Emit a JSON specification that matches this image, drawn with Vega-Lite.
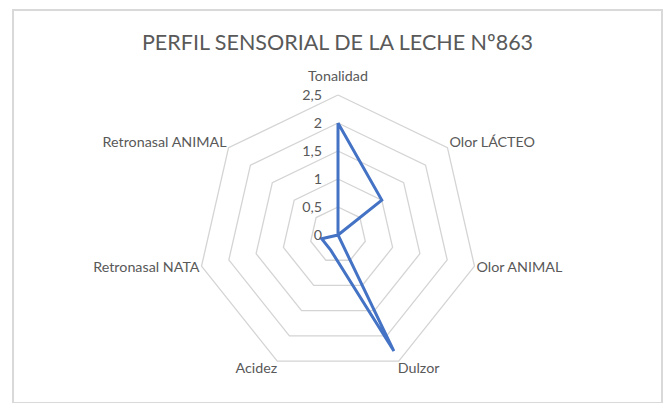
{
  "$schema": "https://vega.github.io/schema/vega-lite/v6.json",
  "width": 649,
  "height": 393,
  "padding": {"left": 13, "top": 10, "right": 2, "bottom": 0},
  "autosize": {"type": "none"},
  "background": "white",
  "config": {"view": {"stroke": "#d9d9d9", "strokeWidth": 2}, "font": "Lato"},
  "title": {"text": "PERFIL SENSORIAL DE LA LECHE Nº863", "font": "Lato", "fontSize": 21.5, "fontWeight": "normal", "color": "#595959", "offset": -44, "anchor": "middle"},
  "encoding": {
    "x": {"field": "x", "type": "quantitative", "scale": {"domain": [-5.804, 5.786], "nice": false, "zero": false}, "axis": null},
    "y": {"field": "y", "type": "quantitative", "scale": {"domain": [-3.0, 4.018], "nice": false, "zero": false}, "axis": null}
  },
  "layer": [
    {
      "data": {"values": [
        {"level": 0.5, "k": [0, 1, 2, 3, 4, 5, 6, 7]},
        {"level": 1.0, "k": [0, 1, 2, 3, 4, 5, 6, 7]},
        {"level": 1.5, "k": [0, 1, 2, 3, 4, 5, 6, 7]},
        {"level": 2.0, "k": [0, 1, 2, 3, 4, 5, 6, 7]},
        {"level": 2.5, "k": [0, 1, 2, 3, 4, 5, 6, 7]}
      ]},
      "transform": [
        {"flatten": ["k"]},
        {"calculate": "datum.level * sin(2 * PI * datum.k / 7)", "as": "x"},
        {"calculate": "datum.level * cos(2 * PI * datum.k / 7)", "as": "y"}
      ],
      "mark": {"type": "line", "color": "#d4d4d4", "strokeWidth": 1.3},
      "encoding": {"detail": {"field": "level"}, "order": {"field": "k", "type": "quantitative"}}
    },
    {
      "data": {"values": [
        {"categoria": "Tonalidad", "i": 0, "valor": 2.0},
        {"categoria": "Olor LÁCTEO", "i": 1, "valor": 1.0},
        {"categoria": "Olor ANIMAL", "i": 2, "valor": 0.0},
        {"categoria": "Dulzor", "i": 3, "valor": 2.3},
        {"categoria": "Acidez", "i": 4, "valor": 0.3},
        {"categoria": "Retronasal NATA", "i": 5, "valor": 0.3},
        {"categoria": "Retronasal ANIMAL", "i": 6, "valor": 0.0},
        {"categoria": "Tonalidad", "i": 7, "valor": 2.0}
      ]},
      "transform": [
        {"calculate": "datum.valor * sin(2 * PI * datum.i / 7)", "as": "x"},
        {"calculate": "datum.valor * cos(2 * PI * datum.i / 7)", "as": "y"}
      ],
      "mark": {"type": "line", "color": "#4472C4", "strokeWidth": 3, "strokeJoin": "miter"},
      "encoding": {"order": {"field": "i", "type": "quantitative"}}
    },
    {
      "data": {"values": [
        {"etiqueta": "0", "v": 0},
        {"etiqueta": "0,5", "v": 0.5},
        {"etiqueta": "1", "v": 1.0},
        {"etiqueta": "1,5", "v": 1.5},
        {"etiqueta": "2", "v": 2.0},
        {"etiqueta": "2,5", "v": 2.5}
      ]},
      "transform": [
        {"calculate": "0", "as": "x"},
        {"calculate": "datum.v", "as": "y"}
      ],
      "mark": {"type": "text", "align": "right", "baseline": "middle", "dx": -16, "dy": 1, "fontSize": 14.3, "color": "#595959"},
      "encoding": {"text": {"field": "etiqueta"}}
    },
    {
      "data": {"values": [
        {"categoria": "Tonalidad", "i": 0},
        {"categoria": "Olor LÁCTEO", "i": 1},
        {"categoria": "Olor ANIMAL", "i": 2},
        {"categoria": "Dulzor", "i": 3},
        {"categoria": "Acidez", "i": 4},
        {"categoria": "Retronasal NATA", "i": 5},
        {"categoria": "Retronasal ANIMAL", "i": 6}
      ]},
      "transform": [
        {"calculate": "2.5 * sin(2 * PI * datum.i / 7)", "as": "x"},
        {"calculate": "2.5 * cos(2 * PI * datum.i / 7)", "as": "y"}
      ],
      "layer": [
        {
          "transform": [{"filter": "datum.i == 0"}],
          "mark": {"type": "text", "align": "center", "baseline": "middle", "dy": -18, "fontSize": 14.3, "color": "#595959"},
          "encoding": {"text": {"field": "categoria"}}
        },
        {
          "transform": [{"filter": "datum.i == 1"}],
          "mark": {"type": "text", "align": "left", "baseline": "middle", "dx": 2, "dy": -5, "fontSize": 14.3, "color": "#595959"},
          "encoding": {"text": {"field": "categoria"}}
        },
        {
          "transform": [{"filter": "datum.i == 2"}],
          "mark": {"type": "text", "align": "left", "baseline": "middle", "dx": 2, "dy": 2, "fontSize": 14.3, "color": "#595959"},
          "encoding": {"text": {"field": "categoria"}}
        },
        {
          "transform": [{"filter": "datum.i == 3"}],
          "mark": {"type": "text", "align": "left", "baseline": "middle", "dx": -1, "dy": 8, "fontSize": 14.3, "color": "#595959"},
          "encoding": {"text": {"field": "categoria"}}
        },
        {
          "transform": [{"filter": "datum.i == 4"}],
          "mark": {"type": "text", "align": "right", "baseline": "middle", "dx": 0, "dy": 8, "fontSize": 14.3, "color": "#595959"},
          "encoding": {"text": {"field": "categoria"}}
        },
        {
          "transform": [{"filter": "datum.i == 5"}],
          "mark": {"type": "text", "align": "right", "baseline": "middle", "dx": -2, "dy": 2, "fontSize": 14.3, "color": "#595959"},
          "encoding": {"text": {"field": "categoria"}}
        },
        {
          "transform": [{"filter": "datum.i == 6"}],
          "mark": {"type": "text", "align": "right", "baseline": "middle", "dx": -2, "dy": -5, "fontSize": 14.3, "color": "#595959"},
          "encoding": {"text": {"field": "categoria"}}
        }
      ]
    }
  ]
}
